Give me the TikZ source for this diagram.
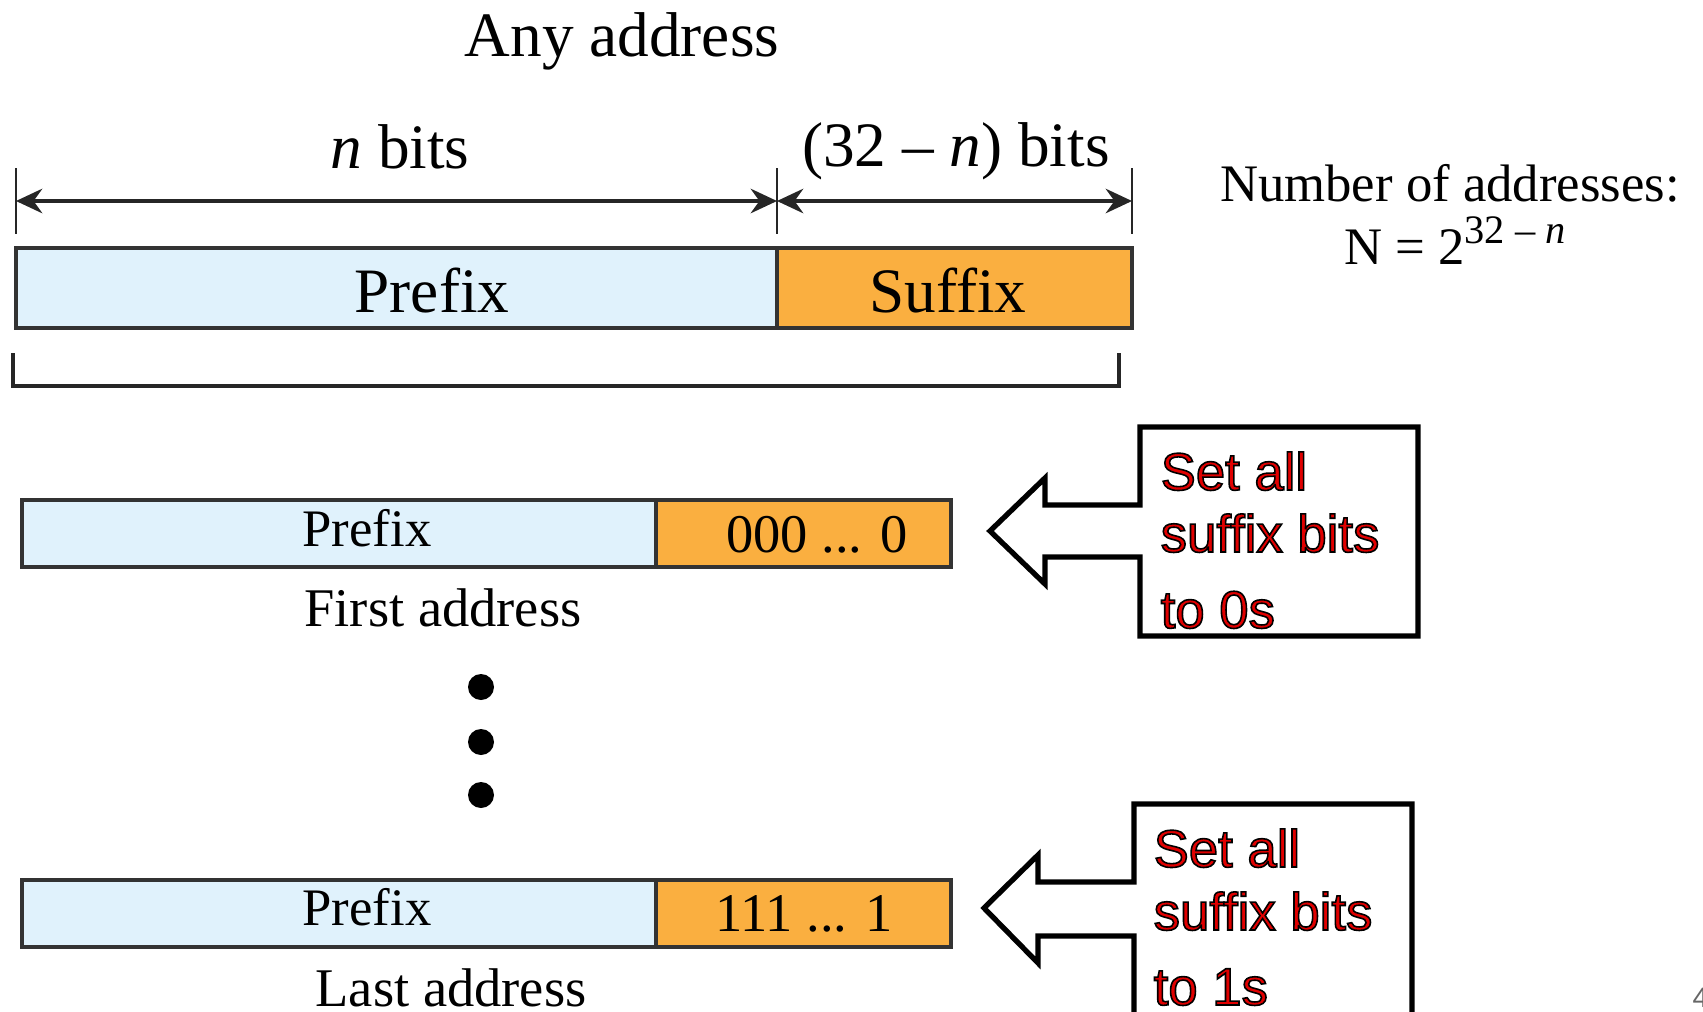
\documentclass[tikz,border=0pt]{standalone}
\usepackage{fontspec}
\setmainfont{Liberation Serif}
\newfontfamily\callfont{Liberation Sans}
\usepackage{xcolor}
\usetikzlibrary{positioning, arrows.meta}
\definecolor{pfxblue}{HTML}{E0F2FC}
\definecolor{sfxorange}{HTML}{FAAF40}
\definecolor{callred}{HTML}{E00000}
\newcommand{\outlined}[1]{\special{pdf:literal direct 2 Tr 0.45 w 0 0 0 RG}#1\special{pdf:literal direct 0 Tr}}

\begin{document}
\begin{tikzpicture}[x=0.1mm, y=-0.1mm,
    field/.style={draw=black!80, line width=0.9pt, anchor=north west, inner sep=0, outer sep=0, minimum height=6.7mm},
    tick/.style={draw=black!85, line width=0.6pt},
    dim/.style={<->, >={Stealth[length=7.5pt, width=7pt, inset=2.5pt]}, line width=0.9pt, black!85},
    callout/.style={draw, line width=1.5pt, fill=white},
    lbl/.style={anchor=base, inner sep=0},
    callt/.style={anchor=base west, inner sep=0, text=callred, font=\callfont\fontsize{15}{18}\selectfont}]
    \useasboundingbox (0,0) rectangle (1703,1012);

    % any address
    \node[lbl, font=\fontsize{18}{20}\selectfont] (any) at (622,56) {Any address};
    \node[field, fill=pfxblue, minimum width=76.1mm, minimum height=8mm] (pre) at (16,248) {};
    \node[field, fill=sfxorange, minimum width=35.5mm, minimum height=8mm] (suf) at (pre.north east) {};
    \node[lbl, font=\fontsize{18}{20}\selectfont] (pretxt) at (432,312) {Prefix};
    \node[lbl, font=\fontsize{18}{20}\selectfont] (suftxt) at (948,312) {Suffix};

    \draw[tick] (16,168) -- (16,234);
    \draw[tick] (777,168) -- (777,234);
    \draw[tick] (1132,168) -- (1132,234);
    \coordinate (da) at (16,201);
    \coordinate (db) at (777,201);
    \coordinate (dc) at (1132,201);
    \draw[dim] (da) -- (db);
    \draw[dim] (db) -- (dc);
    \node[lbl, font=\fontsize{18}{20}\selectfont] (nbits) at (400,168) {\textit{n} bits};
    \node[lbl, font=\fontsize{18}{20}\selectfont] (rbits) at (956,166) {(32 – \textit{n}) bits};

    \draw[line width=0.9pt, black!85] (13,353) -- (13,386) -- (1119,386) -- (1119,353);

    \node[lbl, font=\fontsize{15}{16}\selectfont] (num) at (1450,201) {Number of addresses:};
    \node[lbl, font=\fontsize{15}{16}\selectfont] (nform) at (1455,264) {N = 2\raisebox{0.38em}{\fontsize{11.5}{12}\selectfont 32 – \textit{n}}};

    % first address
    \node[field, fill=pfxblue, minimum width=63.4mm] (pre1) at (22,500) {};
    \node[field, fill=sfxorange, minimum width=29.5mm] (suf1) at (pre1.north east) {};
    \node[lbl, font=\fontsize{15}{17}\selectfont] (pre1txt) at (367,546) {Prefix};
    \node[lbl, font=\fontsize{15.5}{17}\selectfont] (suf1txt) at (817,552) {000 ... 0};
    \node[lbl, font=\fontsize{15.5}{17}\selectfont] (first) at (443,626) {First address};

    \foreach \y in {687,742,795}
        \fill (481,\y) circle (1.3mm);

    % last address
    \node[field, fill=pfxblue, minimum width=63.4mm] (pre2) at (22,880) {};
    \node[field, fill=sfxorange, minimum width=29.5mm] (suf2) at (pre2.north east) {};
    \node[lbl, font=\fontsize{15}{17}\selectfont] (pre2txt) at (367,925) {Prefix};
    \node[lbl, font=\fontsize{15.5}{17}\selectfont] (suf2txt) at (804,931) {111 ... 1};
    \node[lbl, font=\fontsize{15.5}{17}\selectfont] (last) at (451,1006) {Last address};

    % callouts
    \draw[callout] (1140,427) -- (1418,427) -- (1418,636) -- (1140,636) -- (1140,557) -- (1045,557)
        -- (1045,584) -- (990,531) -- (1045,478) -- (1045,505) -- (1140,505) -- cycle;
    \node[callt] (set0a) at (1160,490) {\outlined{Set all}};
    \node[callt] (set0b) at (1160,552) {\outlined{suffix bits}};
    \node[callt] (set0c) at (1160,628) {\outlined{to 0s}};

    \draw[callout] (1134,804) -- (1412,804) -- (1412,1030) -- (1134,1030) -- (1134,936) -- (1038,936)
        -- (1038,963) -- (984,908) -- (1038,855) -- (1038,882) -- (1134,882) -- cycle;
    \node[callt] (set1a) at (1153,867) {\outlined{Set all}};
    \node[callt] (set1b) at (1153,930) {\outlined{suffix bits}};
    \node[callt] (set1c) at (1153,1005) {\outlined{to 1s}};

    \node[anchor=base west, inner sep=0, text=black!60, font=\callfont\fontsize{8}{8}\selectfont] (pg) at (1692,1007) {4};
\end{tikzpicture}
\end{document}
